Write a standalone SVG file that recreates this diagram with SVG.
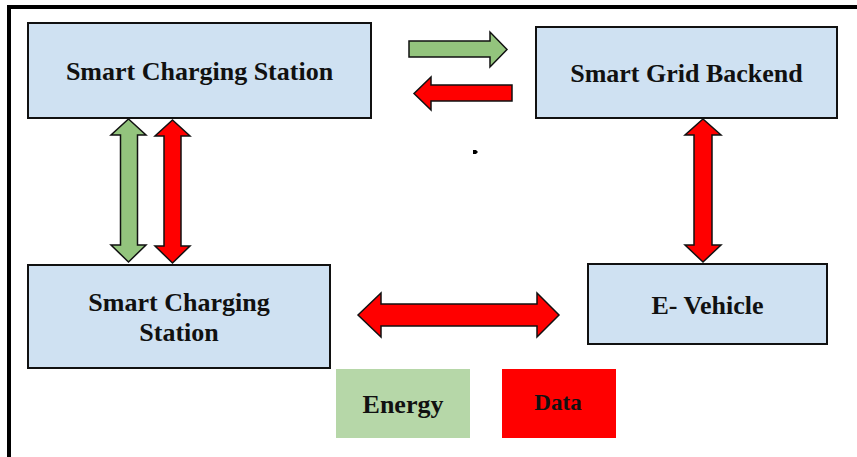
<svg xmlns="http://www.w3.org/2000/svg" width="857" height="457" viewBox="0 0 857 457">
  <style>
    .node rect { fill: #cfe1f2; stroke: #111; stroke-width: 2; }
    .label { font-family: "Liberation Serif", "Times New Roman", serif; font-weight: bold; font-size: 26px; fill: #111; text-anchor: middle; }
    .energy { fill: #93c47d; stroke: #111; stroke-width: 1.5; stroke-linejoin: miter; }
    .data { fill: #ff0000; stroke: #111; stroke-width: 1.5; stroke-linejoin: miter; }
  </style>
  <rect width="857" height="457" fill="#ffffff"/>
  <!-- frame: left and top edges -->
  <path d="M9,457 V7 H857" fill="none" stroke="#000" stroke-width="4"/>

  <g id="station-top" class="node">
    <rect x="28" y="23" width="343" height="95"/>
    <text class="label" x="199.5" y="80">Smart Charging Station</text>
  </g>
  <g id="grid-backend" class="node">
    <rect x="536" y="27" width="301" height="91"/>
    <text class="label" x="686.5" y="82">Smart Grid Backend</text>
  </g>
  <g id="station-bottom" class="node">
    <rect x="28" y="265" width="302" height="103"/>
    <text class="label" x="179" y="311">Smart Charging</text>
    <text class="label" x="179" y="341">Station</text>
  </g>
  <g id="e-vehicle" class="node">
    <rect x="588" y="264" width="239" height="80"/>
    <text class="label" x="707.5" y="314">E- Vehicle</text>
  </g>

  <g id="connectors">
    <!-- station -> backend (energy) -->
    <polygon class="energy" points="409,41 490,41 490,32 507,49.5 490,67 490,57 409,57"/>
    <!-- backend -> station (data) -->
    <polygon class="data" points="414,93.5 431,77 431,85 512,85 512,101 431,101 431,110"/>
    <!-- station top <-> station bottom (energy) -->
    <polygon class="energy" points="128.5,119 146,135 137.5,135 137.5,245 146,245 128.5,262 111,245 120.5,245 120.5,135 111,135"/>
    <!-- station top <-> station bottom (data) -->
    <polygon class="data" points="172.5,120 190,136 181,136 181,246 190,246 172.5,263 155,246 164,246 164,136 155,136"/>
    <!-- backend <-> vehicle (data) -->
    <polygon class="data" points="703,119 721,135 712,135 712,245 721,245 703,262 685,245 694,245 694,135 685,135"/>
    <!-- station bottom <-> vehicle (data) -->
    <polygon class="data" points="358,315 381,293 381,304 537,304 537,293 559,315 537,337 537,326 381,326 381,337"/>
  </g>

  <!-- stray marker -->
  <polygon points="473,150 476,150 478,152 476,154 473,154" fill="#000"/>

  <g id="legend-energy">
    <rect x="336" y="369" width="134" height="69" fill="#b6d7a8"/>
    <text class="label" x="403" y="413">Energy</text>
  </g>
  <g id="legend-data">
    <rect x="502" y="369" width="114" height="69" fill="#ff0000"/>
    <text class="label" x="558" y="410" style="font-size:23px">Data</text>
  </g>
</svg>
